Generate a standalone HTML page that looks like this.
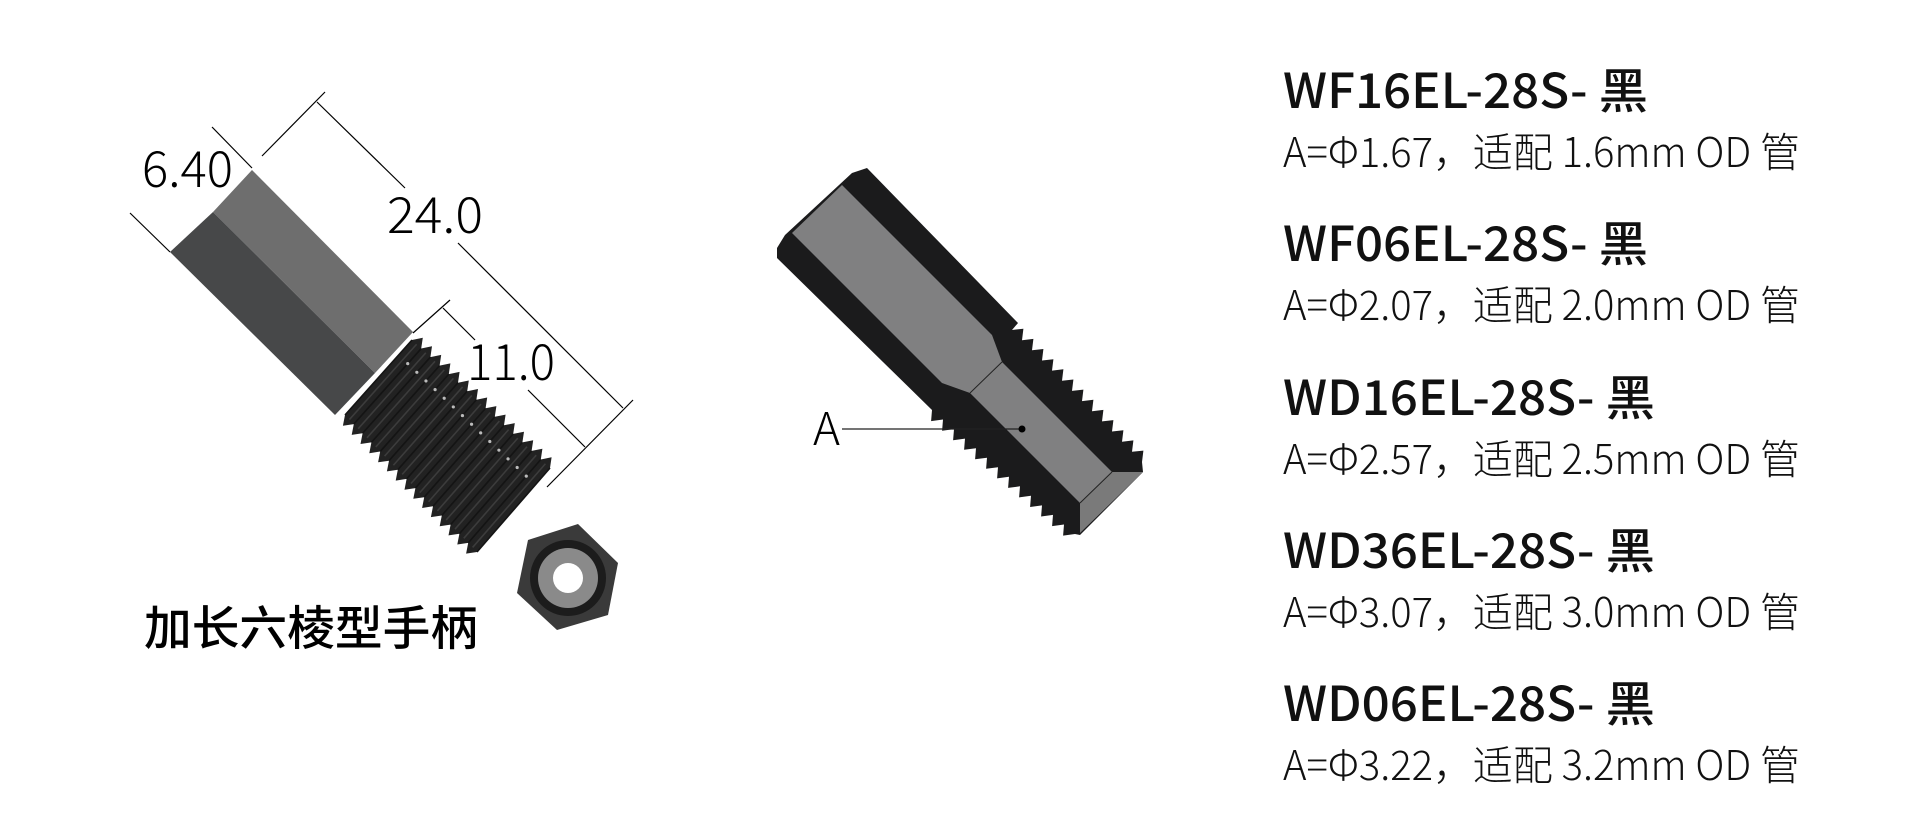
<!DOCTYPE html>
<html><head><meta charset="utf-8"><style>
html,body{margin:0;padding:0;background:#fff;width:1920px;height:828px;overflow:hidden}
svg{display:block}
.c{font-family:"Noto Sans CJK SC","Liberation Sans",sans-serif}
</style></head><body>
<svg id="s" width="1920" height="828" viewBox="0 0 1920 828" xmlns="http://www.w3.org/2000/svg">
<polygon points="252,170 213,212 375,373 413,332" fill="#6e6e6e"/>
<polygon points="213,212 170,252 335,415 375,373" fill="#474849"/>
<g stroke="#000" stroke-width="1.2" fill="none">
<line x1="212" y1="127" x2="252" y2="168"/>
<line x1="130" y1="213" x2="170" y2="252"/>
<line x1="262" y1="156" x2="325" y2="92"/>
<line x1="317" y1="102" x2="405" y2="188"/>
<line x1="458" y1="243" x2="623" y2="408"/>
<line x1="633" y1="400" x2="547" y2="487"/>
<line x1="450" y1="300" x2="413" y2="333"/>
<line x1="443" y1="308" x2="475" y2="340"/>
<line x1="528" y1="390" x2="585" y2="447"/>
</g>
<g id="lt"></g>
<polygon points="578,524 618,563 608,615 557,630 517,593 528,540" fill="#3a3a3a"/>
<circle cx="568" cy="578" r="38" fill="#1c1c1c"/>
<circle cx="568" cy="578" r="30" fill="#8a8a8a"/>
<circle cx="568" cy="578" r="15" fill="#fff"/>
<g id="rt"></g>
<text class="c" x="142" y="187" font-size="50" font-weight="300" textLength="91" lengthAdjust="spacingAndGlyphs">6.40</text>
<text class="c" x="387" y="233" font-size="50" font-weight="300" textLength="96" lengthAdjust="spacingAndGlyphs">24.0</text>
<text class="c" x="467" y="380" font-size="50" font-weight="300" textLength="88" lengthAdjust="spacingAndGlyphs">11.0</text>
<text class="c" x="813" y="445" font-size="45" font-weight="300" textLength="27" lengthAdjust="spacingAndGlyphs">A</text>
<line x1="842" y1="429" x2="1022" y2="429" stroke="#222" stroke-width="1.3"/>
<circle cx="1022" cy="429" r="3.5" fill="#000"/>
<text class="c" x="144" y="645" font-size="47" font-weight="500" textLength="334" lengthAdjust="spacingAndGlyphs">加长六棱型手柄</text>
<g class="c" fill="#111">
<text x="1283" y="108" font-size="48" font-weight="500" textLength="365" lengthAdjust="spacingAndGlyphs">WF16EL-28S- 黑</text>
<text x="1283" y="167" font-size="41" font-weight="300" textLength="517" lengthAdjust="spacingAndGlyphs">A=Φ1.67，适配 1.6mm OD 管</text>
<text x="1283" y="261" font-size="48" font-weight="500" textLength="365" lengthAdjust="spacingAndGlyphs">WF06EL-28S- 黑</text>
<text x="1283" y="320" font-size="41" font-weight="300" textLength="517" lengthAdjust="spacingAndGlyphs">A=Φ2.07，适配 2.0mm OD 管</text>
<text x="1283" y="415" font-size="48" font-weight="500" textLength="372" lengthAdjust="spacingAndGlyphs">WD16EL-28S- 黑</text>
<text x="1283" y="474" font-size="41" font-weight="300" textLength="517" lengthAdjust="spacingAndGlyphs">A=Φ2.57，适配 2.5mm OD 管</text>
<text x="1283" y="568" font-size="48" font-weight="500" textLength="372" lengthAdjust="spacingAndGlyphs">WD36EL-28S- 黑</text>
<text x="1283" y="627" font-size="41" font-weight="300" textLength="517" lengthAdjust="spacingAndGlyphs">A=Φ3.07，适配 3.0mm OD 管</text>
<text x="1283" y="721" font-size="48" font-weight="500" textLength="372" lengthAdjust="spacingAndGlyphs">WD06EL-28S- 黑</text>
<text x="1283" y="780" font-size="41" font-weight="300" textLength="517" lengthAdjust="spacingAndGlyphs">A=Φ3.22，适配 3.2mm OD 管</text>
</g>
</svg>
<script>
(function(){
var NS="http://www.w3.org/2000/svg";
function el(parent,tag,attrs){var e=document.createElementNS(NS,tag);for(var k in attrs)e.setAttribute(k,attrs[k]);parent.appendChild(e);return e;}
function teeth(a,b,n,d,count){
 var pts=[];for(var i=0;i<count;i++){
  var t0=i/count,t1=(i+0.5)/count;
  var x0=a[0]+(b[0]-a[0])*t0,y0=a[1]+(b[1]-a[1])*t0;
  var x1=a[0]+(b[0]-a[0])*t1,y1=a[1]+(b[1]-a[1])*t1;
  pts.push([x0,y0]);pts.push([x1+n[0]*d,y1+n[1]*d]);
 }
 pts.push(b);return pts;}
function str(p){return p.map(function(q){return q[0].toFixed(1)+","+q[1].toFixed(1)}).join(" ");}
var lt=document.getElementById("lt");
var up=teeth([412,340],[550,468],[0.69,-0.72],9,15);
var lo=teeth([345,415],[477,552],[-0.72,0.69],9,15);
var poly=up.concat(lo.slice().reverse());
el(lt,"polygon",{points:str(poly),fill:"#222"});
for(var i=0;i<=30;i++){var t=i/30;
 var ax=412+(550-412)*t, ay=340+(468-340)*t, bx=345+(477-345)*t, by=415+(552-415)*t;
 el(lt,"line",{x1:ax,y1:ay,x2:bx,y2:by,stroke:(i%2?"#3c3c3c":"#141414"),"stroke-width":1.6});
 if(i%2==0&&i>0&&i<30){el(lt,"circle",{cx:ax+(bx-ax)*0.2,cy:ay+(by-ay)*0.2,r:1.6,fill:"#bbb"});}
}
var rt=document.getElementById("rt");
var uR=teeth([1012,330],[1142,462],[0.707,-0.707],9,13);
var lR=teeth([932,410],[1075,534],[-0.707,0.707],9,13);
var outer=[[852,173],[867,168],[1018,323]].concat(uR).concat([[1143,472],[1080,535]]).concat(lR.slice().reverse()).concat([[777,258],[777,248],[785,235]]);
el(rt,"polygon",{points:str(outer),fill:"#1b1b1c"});
el(rt,"polygon",{points:"842,185 792,233 942,383 970,393 1002,362 992,335",fill:"#808081"});
el(rt,"polygon",{points:"970,393 1002,362 1112,472 1080,503",fill:"#808081"});
el(rt,"polygon",{points:"1112,472 1143,472 1080,533 1080,503",fill:"#7a7a7a"});
el(rt,"line",{x1:970,y1:393,x2:1002,y2:362,stroke:"#222","stroke-width":1});
el(rt,"line",{x1:1080,y1:503,x2:1112,y2:472,stroke:"#222","stroke-width":1});
})();
</script>
</body></html>
